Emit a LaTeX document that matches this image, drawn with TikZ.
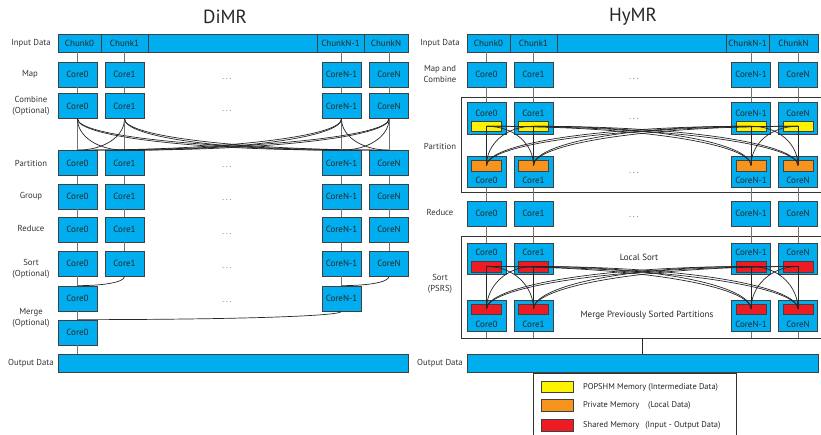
\documentclass[tikz,border=0pt]{standalone}
\usepackage{fontspec}
\setmainfont{PT Sans}
\definecolor{cyanbox}{HTML}{00AEEF}
\definecolor{memyellow}{HTML}{FFF200}
\definecolor{memorange}{HTML}{F7941D}
\definecolor{memred}{HTML}{ED1C24}
\begin{document}
\begin{tikzpicture}[x=1pt,y=1pt,
  box/.style={draw=black!75, fill=cyanbox, line width=0.7pt, inner sep=0pt,
    minimum width=39pt, minimum height=25pt,
    font=\fontsize{9}{10}\selectfont, text=black!85},
  tallbox/.style={box, minimum height=31.5pt},
  cell/.style={draw=black!75, fill=cyanbox, line width=0.7pt, inner sep=0pt,
    minimum height=18pt, font=\fontsize{9}{10}\selectfont, text=black!85},
  ctext/.style={inner sep=0pt, font=\fontsize{9}{10}\selectfont, text=black!85},
  lab/.style={inner sep=0pt, font=\fontsize{8.7}{11}\selectfont, text=black!80, align=center},
  ttl/.style={inner sep=0pt, font=\fontsize{19}{20}\selectfont, text=black!85},
  dotsn/.style={inner sep=0pt, font=\fontsize{8}{9}\selectfont, text=black!70},
  vline/.style={draw=black!55, line width=0.7pt},
  cline/.style={draw=black!85, line width=0.7pt},
  mem/.style={draw=black!75, line width=0.6pt, inner sep=0pt, minimum width=30pt},
  frame/.style={draw=black!80, line width=0.7pt},
  legtext/.style={inner sep=0pt, anchor=west, font=\fontsize{8.4}{9}\selectfont, text=black!85},
]
\useasboundingbox (0,0) rectangle (821,-435);

% ---------------- DiMR ----------------
\node[ttl] (dtitle) at (225,-17) {DiMR};

% input chunks
\node[cell, minimum width=43pt] (dch0) at (79.5,-43) {Chunk0};
\node[cell, minimum width=47pt] (dch1) at (124.5,-43) {Chunk1};
\node[cell, minimum width=169pt] (dchm) at (232.5,-43) {};
\node[cell, minimum width=47pt] (dch2) at (340.5,-43) {ChunkN-1};
\node[cell, minimum width=44pt] (dch3) at (386,-43) {ChunkN};

% stage labels
\node[lab] (dl1) at (31,-43) {Input Data};
\node[lab] (dl2) at (30,-74.5) {Map};
\node[lab] (dl3) at (31,-106) {Combine\\(Optional)};
\node[lab] (dl4) at (31,-163) {Partition};
\node[lab] (dl5) at (31,-196) {Group};
\node[lab] (dl6) at (31,-228) {Reduce};
\node[lab] (dl7) at (31,-269) {Sort\\(Optional)};
\node[lab] (dl8) at (31,-318) {Merge\\(Optional)};
\node[lab] (dl9) at (31,-363) {Output Data};

% core rows
\foreach \i/\x/\t in {0/77.5/Core0, 1/124.5/Core1, 2/341.5/CoreN-1, 3/389/CoreN}{
  \node[box] (dmap\i) at (\x,-74.5) {\t};
  \node[box] (dcmb\i) at (\x,-106) {\t};
  \node[box] (dpar\i) at (\x,-163) {\t};
  \node[box] (dgrp\i) at (\x,-196.5) {\t};
  \node[box] (dred\i) at (\x,-229.5) {\t};
  \node[box] (dsrt\i) at (\x,-263.5) {\t};
}
\node[box] (dmA0) at (77.5,-298.5) {Core0};
\node[box] (dmA2) at (341.5,-298.5) {CoreN-1};
\node[box] (dmB0) at (77.5,-332.5) {Core0};
\node[cell, minimum width=350pt] (dout) at (233,-363) {};

% elision dots
\foreach \n/\y in {a/79, b/111, c/167.5, d/200.5, e/234, f/268, g/302.5}{
  \node[dotsn] (dd\n) at (227,-\y) {.\hspace{2pt}.\hspace{2pt}.};
}

% straight links
\foreach \i in {0,1,2,3}{
  \draw[vline] (dmap\i.north) -- (dmap\i.north |- dch\i.south);
  \draw[vline] (dmap\i) -- (dcmb\i);
  \draw[vline] (dpar\i) -- (dgrp\i);
  \draw[vline] (dgrp\i) -- (dred\i);
  \draw[vline] (dred\i) -- (dsrt\i);
}
\draw[vline] (dsrt0) -- (dmA0);
\draw[vline] (dsrt2) -- (dmA2);
\draw[vline] (dmA0) -- (dmB0);
\draw[vline] (dmB0.south) -- (dmB0.south |- dout.north);

% all-to-all shuffle between combine and partition
\foreach \i/\xi in {0/77.5,1/124.5,2/341.5,3/389}{
  \foreach \j/\xj in {0/77.5,1/124.5,2/341.5,3/389}{
    \ifnum\i=\j
      \draw[vline] (dcmb\i.south) -- (dpar\j.north);
    \else
      \pgfmathsetmacro\dd{0.55*abs(\xj-\xi)}
      \pgfmathtruncatemacro\ang{\xj>\xi ? 180 : 0}
      \draw[cline] (dcmb\i.south) to[out=-90, in=\ang, out distance=18pt, in distance=\dd pt] (dpar\j.north);
    \fi
  }
}

% merge tree
\draw[cline] (dsrt1.south) to[out=-90, in=0, out distance=6pt, in distance=26pt] (dmA0.north);
\draw[cline] (dsrt3.south) to[out=-90, in=0, out distance=6pt, in distance=26pt] (dmA2.north);
\draw[cline] (dmA2.south) to[out=-90, in=0, out distance=5pt, in distance=150pt] (dmB0.north);

% ---------------- HyMR ----------------
\node[ttl] (htitle) at (633,-17) {HyMR};

\node[cell, minimum width=43pt] (hch0) at (488.5,-43) {Chunk0};
\node[cell, minimum width=47pt] (hch1) at (533.5,-43) {Chunk1};
\node[cell, minimum width=169pt] (hchm) at (641.5,-43) {};
\node[cell, minimum width=43pt] (hch2) at (747.5,-43) {ChunkN-1};
\node[cell, minimum width=49pt] (hch3) at (793.5,-43) {ChunkN};

\node[lab] (hl1) at (440,-43) {Input Data};
\node[lab] (hl2) at (440,-74.5) {Map and\\Combine};
\node[lab] (hl3) at (440,-146) {Partition};
\node[lab] (hl4) at (440,-212) {Reduce};
\node[lab] (hl5) at (440,-283.5) {Sort\\(PSRS)};
\node[lab] (hl6) at (440,-363) {Output Data};

% group frames (open towards the right edge)
\coordinate (pfa) at (461,-97);
\coordinate (pfb) at (461,-192);
\coordinate (sfa) at (461,-236);
\coordinate (sfb) at (461,-338);
\coordinate (sfo) at (642,-338);
\draw[frame] (pfa -| 821,0) -- (pfa) -- (pfb) -- (pfb -| 821,0);
\draw[frame] (sfa -| 821,0) -- (sfa) -- (sfb) -- (sfb -| 821,0);

\foreach \i/\x/\t in {0/486.5/Core0, 1/533.5/Core1, 2/751/CoreN-1, 3/798/CoreN}{
  \node[box] (hmap\i) at (\x,-74.5) {\t};
  % partition: POPSHM on top, private memory below
  \node[tallbox] (hpt\i) at (\x,-118.5) {};
  \node[ctext] (hptt\i) at (\x,-113) {\t};
  \node[mem, fill=memyellow, minimum height=9.5pt] (hy\i) at (\x,-126.25) {};
  \node[tallbox] (hpb\i) at (\x,-172) {};
  \node[ctext] (hpbt\i) at (\x,-180) {\t};
  \node[mem, fill=memorange, minimum height=11pt] (ho\i) at (\x,-165.5) {};
  % reduce
  \node[box] (hred\i) at (\x,-213.5) {\t};
  % sort: shared memory in both phases
  \node[tallbox] (hst\i) at (\x,-259) {};
  \node[ctext] (hstt\i) at (\x,-252) {\t};
  \node[mem, fill=memred, minimum height=11pt] (hrt\i) at (\x,-266.5) {};
  \node[tallbox] (hsb\i) at (\x,-316) {};
  \node[ctext] (hsbt\i) at (\x,-324) {\t};
  \node[mem, fill=memred, minimum height=10pt] (hrb\i) at (\x,-309) {};
}
\node[cell, minimum width=351pt] (hout) at (642.5,-363) {};

\node[ctext] (hls) at (639,-257) {Local Sort};
\node[ctext] (hmp) at (647,-315) {Merge Previously Sorted Partitions};

\foreach \n/\y in {a/79, b/119, c/173, d/217}{
  \node[dotsn] (hd\n) at (634,-\y) {.\hspace{2pt}.\hspace{2pt}.};
}

% straight links
\foreach \i in {0,1,2,3}{
  \draw[vline] (hmap\i.north) -- (hmap\i.north |- hch\i.south);
  \draw[vline] (hmap\i) -- (hpt\i);
  \draw[vline] (hpb\i) -- (hred\i);
  \draw[vline] (hred\i) -- (hst\i);
  \draw[vline] (hsb\i.south) -- (hsb\i.south |- sfb);
}
\draw[cline] (sfo) -- (sfo |- hout.north);

% exchanges inside partition and sort phases
\foreach \i/\xi in {0/486.5,1/533.5,2/751,3/798}{
  \foreach \j/\xj in {0/486.5,1/533.5,2/751,3/798}{
    \ifnum\i=\j
      \draw[cline] (hy\i.center) -- (ho\j.center);
      \draw[cline] (hrt\i.center) -- (hrb\j.center);
    \else
      \pgfmathsetmacro\dd{0.6*abs(\xj-\xi)}
      \pgfmathtruncatemacro\ang{\xj>\xi ? 0 : 180}
      \draw[cline] (hy\i.center) to[out=\ang, in=90, out distance=\dd pt, in distance=21pt] (ho\j.center);
      \draw[cline] (hrt\i.center) to[out=\ang, in=90, out distance=\dd pt, in distance=22pt] (hrb\j.center);
    \fi
  }
}

% ---------------- legend ----------------
\coordinate (lga) at (533,-373);
\coordinate (lgb) at (736,-373);
\draw[frame, line width=0.6pt] (lga |- 0,-435) -- (lga) -- (lgb) -- (lgb |- 0,-435);
\node[mem, fill=memyellow, minimum width=32pt, minimum height=11pt] (lg1) at (557,-386.5) {};
\node[mem, fill=memorange, minimum width=32pt, minimum height=12pt] (lg2) at (557,-405) {};
\node[mem, fill=memred, minimum width=32pt, minimum height=12pt] (lg3) at (557,-425) {};
\node[legtext] (lt1) at (583,-387) {POPSHM Memory (Intermediate Data)};
\node[legtext] (lt2) at (583,-405) {Private Memory\hspace{9pt}(Local Data)};
\node[legtext] (lt3) at (583,-425) {Shared Memory\hspace{6pt}(Input - Output Data)};
\end{tikzpicture}
\end{document}
